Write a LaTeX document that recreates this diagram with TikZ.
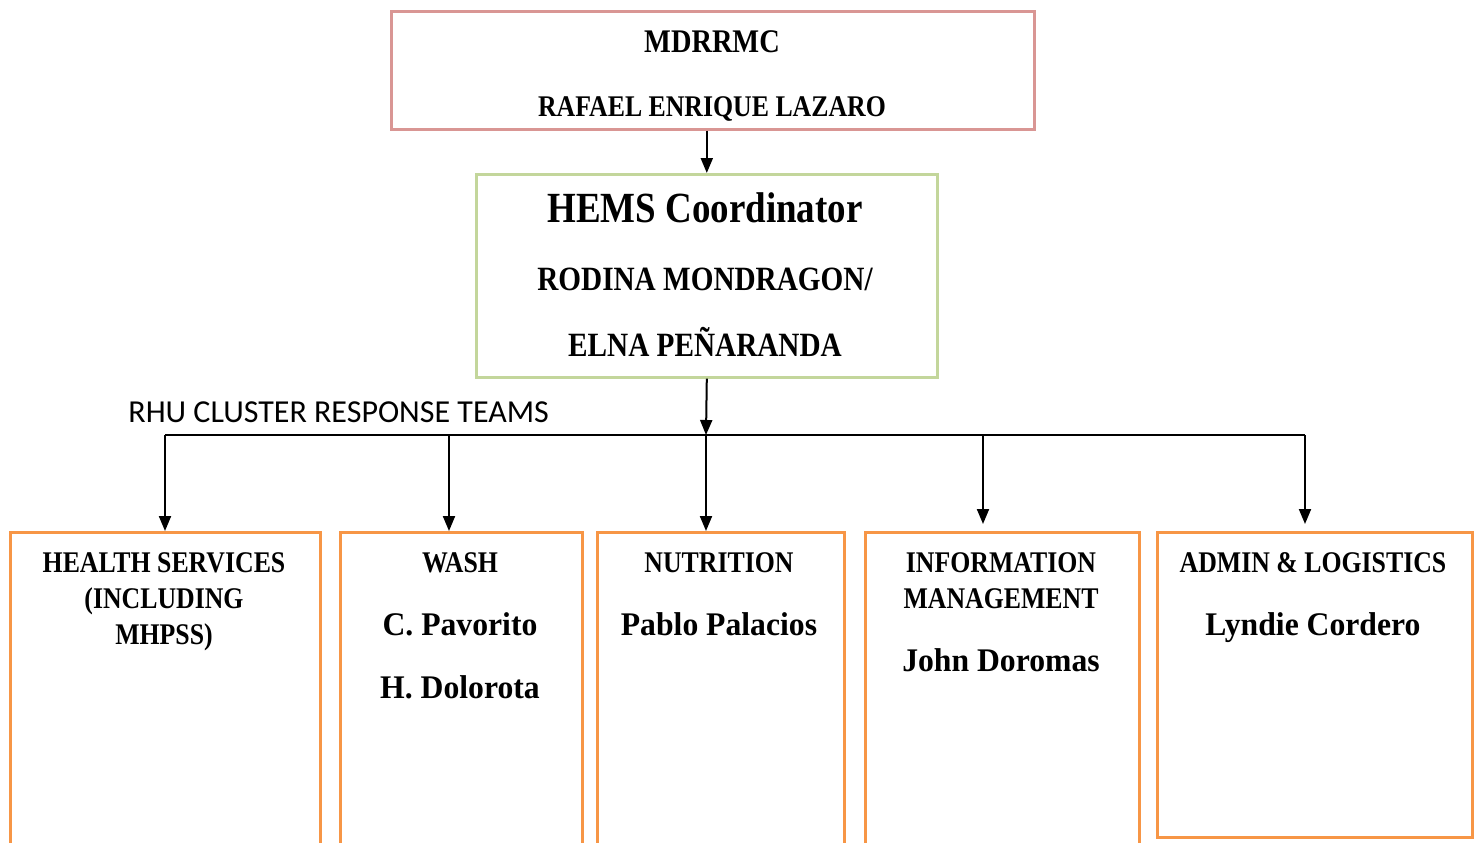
\documentclass[tikz,border=0pt]{standalone}
\usepackage{fontspec}
\setmainfont{Liberation Serif}[FakeStretch=0.86]
\newfontfamily\namefont{Liberation Serif}[FakeStretch=0.96]
\newfontfamily\teamfont{Carlito}
\usetikzlibrary{arrows.meta}

\definecolor{mdpink}{HTML}{D99694}
\definecolor{hemsgreen}{HTML}{C3D69B}
\definecolor{teamorange}{HTML}{F79646}

\tikzset{
  unitbox/.style={rectangle, line width=1.3pt, inner sep=0pt, anchor=north west},
  line/.style={anchor=base, inner sep=0pt, font=\bfseries\fontsize{15}{18}\selectfont},
  person/.style={line, font=\namefont\bfseries\fontsize{16.5}{19}\selectfont},
  arr/.style={line width=1pt, -{Triangle[length=7.5pt, width=6pt]}}
}

\begin{document}
\begin{tikzpicture}[x=0.5pt, y=-0.5pt]
  \useasboundingbox (0,0) rectangle (1478,842);

  \node[unitbox, draw=mdpink, minimum width=321.5pt, minimum height=59pt] (mdrrmc) at (390,10) {};
  \node[unitbox, draw=hemsgreen, minimum width=230.5pt, minimum height=101.5pt] (hems) at (475,173) {};
  \node[unitbox, draw=teamorange, minimum width=155pt, minimum height=250pt] (health) at (9,531) {};
  \node[unitbox, draw=teamorange, minimum width=121pt, minimum height=250pt] (wash) at (339,531) {};
  \node[unitbox, draw=teamorange, minimum width=123.5pt, minimum height=250pt] (nutri) at (596,531) {};
  \node[unitbox, draw=teamorange, minimum width=137pt, minimum height=250pt] (info) at (864,531) {};
  \node[unitbox, draw=teamorange, minimum width=157.5pt, minimum height=152.5pt] (admin) at (1156,531) {};

  \node[line, font=\bfseries\fontsize{16.5}{19}\selectfont] (md1) at (712,52) {MDRRMC};
  \node[line] (md2) at (712,116) {RAFAEL ENRIQUE LAZARO};
  \node[line, font=\bfseries\fontsize{21.5}{24}\selectfont] (he1) at (705,222) {HEMS Coordinator};
  \node[line, font=\bfseries\fontsize{17}{20}\selectfont] (he2) at (705,290) {RODINA MONDRAGON/};
  \node[line, font=\bfseries\fontsize{17}{20}\selectfont] (he3) at (705,356) {ELNA PEÑARANDA};
  \node[anchor=base west, inner sep=0pt, font=\teamfont\fontsize{16}{19}\selectfont] (rhu) at (128,422) {RHU CLUSTER RESPONSE TEAMS};

  \node[line] (hs1) at (164,572) {HEALTH SERVICES};
  \node[line] (hs2) at (164,608) {(INCLUDING};
  \node[line] (hs3) at (164,644) {MHPSS)};
  \node[line] (wa1) at (460,572) {WASH};
  \node[person] (wa2) at (460,635) {C. Pavorito};
  \node[person] (wa3) at (460,698) {H. Dolorota};
  \node[line] (nu1) at (719,572) {NUTRITION};
  \node[person] (nu2) at (719,635) {Pablo Palacios};
  \node[line] (im1) at (1001,572) {INFORMATION};
  \node[line] (im2) at (1001,608) {MANAGEMENT};
  \node[person] (im3) at (1001,671) {John Doromas};
  \node[line] (ad1) at (1313,572) {ADMIN \& LOGISTICS};
  \node[person] (ad2) at (1313,635) {Lyndie Cordero};

  % connectors
  \coordinate (bus) at (706,435);
  \coordinate (busL) at (165,435);
  \coordinate (busR) at (1305,435);
  \draw[arr] (hems.north |- mdrrmc.south) -- (hems.north);
  \draw[arr] (hems.south) -- (bus);
  \draw[line width=1pt] (busL) -- (busR);
  \foreach \x/\b/\s in {165/health/0, 449/wash/0, 706/nutri/0, 983/info/3.5, 1305/admin/3.5}{
    \coordinate (drop-\b) at (\x,435);
    \draw[arr, shorten >=\s pt] (drop-\b) -- (drop-\b |- \b.north);
  }
\end{tikzpicture}
\end{document}
